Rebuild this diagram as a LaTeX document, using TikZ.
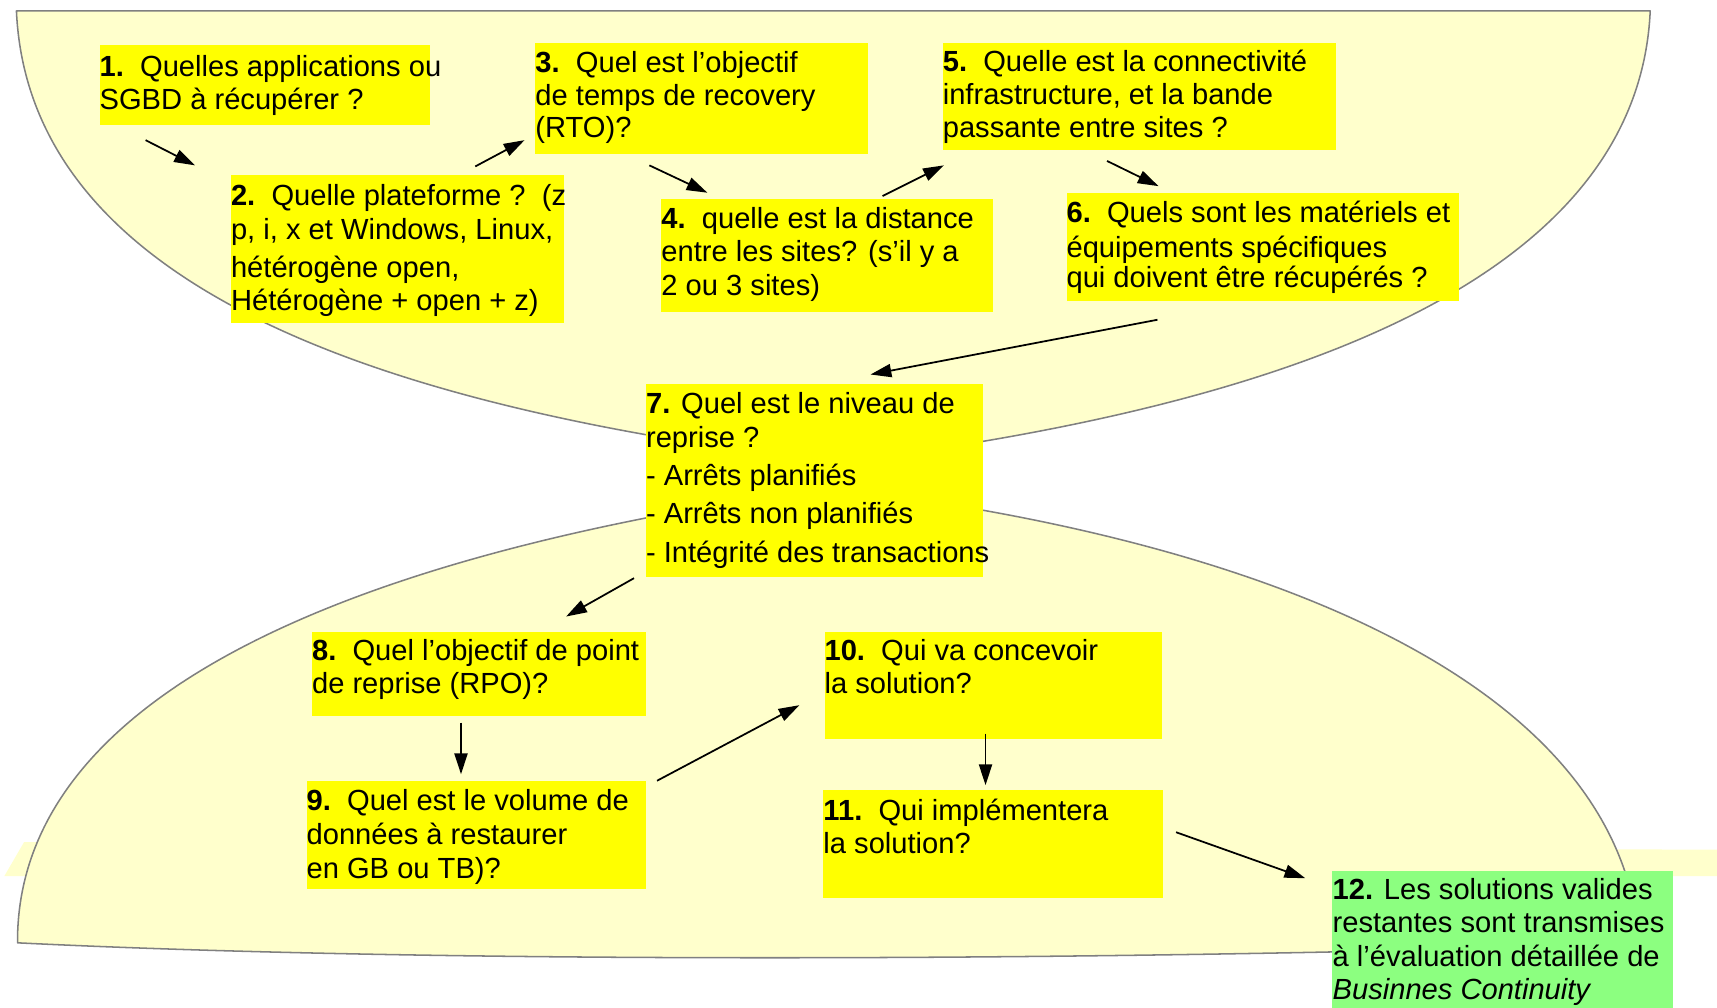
\documentclass[tikz,border=0pt]{standalone}
\usepackage{fontspec}
\setmainfont{Liberation Sans}
\usetikzlibrary{arrows.meta,fit}
\definecolor{pale}{RGB}{255,255,204}
\definecolor{edgegray}{RGB}{128,128,128}
\definecolor{boxyellow}{RGB}{255,255,0}
\definecolor{boxgreen}{RGB}{140,255,128}
\newcommand{\firststrut}{\rule{0pt}{12pt}}
\begin{document}
\begin{tikzpicture}[x=0.5pt,y=-0.5pt,
  bowl/.style={fill=pale, draw=edgegray, line width=0.7pt, line join=round},
  box/.style={fill=boxyellow, inner sep=0pt, outer sep=0pt},
  gbox/.style={fill=boxgreen, inner sep=0pt, outer sep=0pt},
  txt/.style={anchor=north west, inner sep=0pt, outer sep=0pt, align=left,
              font=\fontsize{13.3pt}{15pt}\selectfont},
  arr/.style={-{Triangle[length=9.5pt,width=6pt]}, line width=0.8pt, black}]
\useasboundingbox (0,0) rectangle (1568,920);
\clip (0,0) rectangle (1568,920);
\fill[white] (0,0) rectangle (1568,920);

% pale band behind the lower shape
\fill[pale] (22,769) -- (1568,776) -- (1568,800) -- (4,800) -- cycle;

% upper bowl
\path[bowl] (15,10) .. controls (25,230) and (270,340) .. (590,397)
  -- (744,425) -- (898,403)
  .. controls (1240,345) and (1497,230) .. (1507,10) -- cycle;

% lower shape
\path[bowl] (590,473) .. controls (200,550) and (15,685) .. (16,861)
  .. controls (400,880) and (1000,878) .. (1497,862)
  .. controls (1482,640) and (1200,520) .. (898,466)
  -- (744,455) -- cycle;

% boxes
\node[box, fit={(91,41) (393,114)}] (b1) {};
\node[box, fit={(211,160) (515,295)}] (b2) {};
\node[box, fit={(489,39) (793,141)}] (b3) {};
\node[box, fit={(604,182) (907,285)}] (b4) {};
\node[box, fit={(861,39) (1220,137)}] (b5) {};
\node[box, fit={(974,176) (1332,275)}] (b6) {};
\node[box, fit={(590,351) (898,527)}] (b7) {};
\node[box, fit={(285,577) (590,654)}] (b8) {};
\node[box, fit={(280,713) (590,812)}] (b9) {};
\node[box, fit={(753,577) (1061,675)}] (b10) {};
\node[box, fit={(752,721) (1062,820)}] (b11) {};
\node[gbox, fit={(1216,795) (1528,935)}] (b12) {};

% texts
\node[txt] (t1) at (91,46) {\firststrut\textbf{1.}\ \ Quelles applications ou\\SGBD à récupérer ?};
\node[txt] (t2) at (211,163.5) {\firststrut\textbf{2.}\ \ Quelle plateforme ?\ \ (z\\[0.75pt]p, i, x et Windows, Linux,\\[2.1pt]hétérogène open,\\Hétérogène + open + z)};
\node[txt] (t3) at (489,42) {\firststrut\textbf{3.}\ \ Quel est l’objectif\\de temps de recovery\\(RTO)?};
\node[txt] (t4) at (604,184.5) {\firststrut\textbf{4.}\ \ quelle est la distance\\[0.25pt]entre les sites? (s’il y a\\[0.25pt]2 ou 3 sites)};
\node[txt] (t5) at (861,41.5) {\firststrut\textbf{5.}\ \ Quelle est la connectivité\\infrastructure, et la bande\\passante entre sites ?};
\node[txt] (t6) at (974,179) {\firststrut\textbf{6.}\ \ Quels sont les matériels et\\[1.3pt]équipements spécifiques\\[-1.3pt]qui doivent être récupérés ?};
\node[txt] (t7) at (590,354) {\firststrut\textbf{7.} Quel est le niveau de\\[0.5pt]reprise ?\\[2.25pt]- Arrêts planifiés\\[2.5pt]- Arrêts non planifiés\\[2.5pt]- Intégrité des transactions};
\node[txt] (t8) at (285,579.5) {\firststrut\textbf{8.}\ \ Quel l’objectif de point\\de reprise (RPO)?};
\node[txt] (t9) at (280,716.5) {\firststrut\textbf{9.}\ \ Quel est le volume de\\[0.5pt]données à restaurer\\[0.5pt]en GB ou TB)?};
\node[txt] (t10) at (753,579.5) {\firststrut\textbf{10.}\ \ Qui va concevoir\\la solution?};
\node[txt] (t11) at (752,725) {\firststrut\textbf{11.}\ \ Qui implémentera\\[0.25pt]la solution?};
\node[txt] (t12) at (1217,797) {\firststrut\textbf{12.} Les solutions valides\\[0.5pt]restantes sont transmises\\[0.5pt]à l’évaluation détaillée de\\\textit{Businnes Continuity}};

% arrow end points
\coordinate (a1s) at (133,128);  \coordinate (a1e) at (178,151);
\coordinate (a2s) at (434,152);  \coordinate (a2e) at (479,128);
\coordinate (a3s) at (593,151);  \coordinate (a3e) at (646,176);
\coordinate (a4s) at (806,179);  \coordinate (a4e) at (862,151);
\coordinate (a5s) at (1011,147); \coordinate (a5e) at (1058,170);
\coordinate (a6s) at (1057,292); \coordinate (a6e) at (795,342);
\coordinate (a7s) at (579,528);  \coordinate (a7e) at (517,563);
\coordinate (a8s) at (421,660);  \coordinate (a8e) at (421,707);
\coordinate (a9s) at (600,713);  \coordinate (a9e) at (730,644);
\coordinate (a10s) at (900,670); \coordinate (a10e) at (900,717);
\coordinate (a11s) at (1074,760); \coordinate (a11e) at (1192,802);

\draw[arr] (a1s) -- (a1e);
\draw[arr] (a2s) -- (a2e);
\draw[arr] (a3s) -- (a3e);
\draw[arr] (a4s) -- (a4e);
\draw[arr] (a5s) -- (a5e);
\draw[arr] (a6s) -- (a6e);
\draw[arr] (a7s) -- (a7e);
\draw[arr] (a8s) -- (a8e);
\draw[arr] (a9s) -- (a9e);
\draw[arr] (a10s) -- (a10e);
\draw[arr] (a11s) -- (a11e);
\end{tikzpicture}
\end{document}
